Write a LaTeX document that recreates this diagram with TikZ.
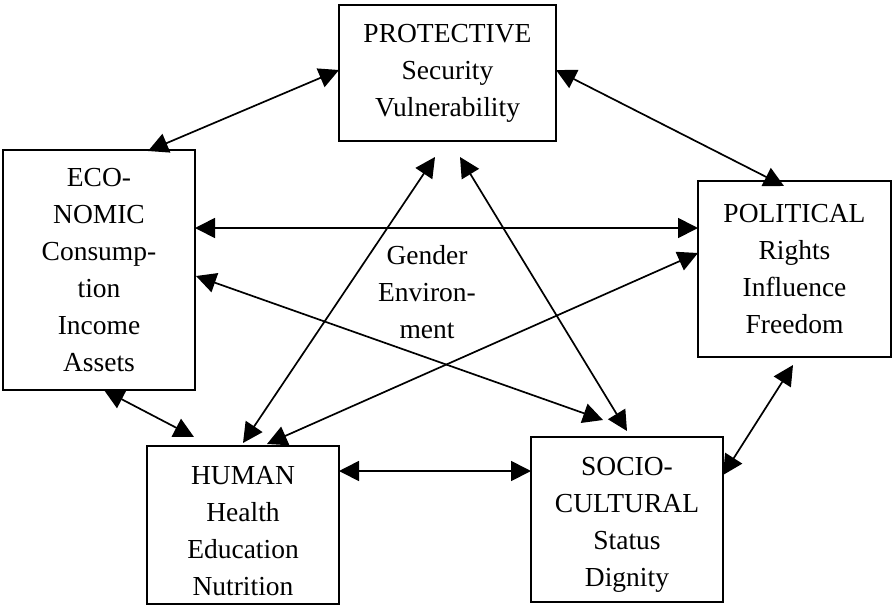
\documentclass[tikz,border=0pt]{standalone}
\usepackage{fontspec}
\setmainfont{Liberation Serif}
\usetikzlibrary{arrows.meta}
\begin{document}
\begin{tikzpicture}[x=1pt,y=-1pt,
  txt/.style={font=\fontsize{27.5}{37}\selectfont,align=center,inner sep=0pt},
  box/.style={txt,draw,line width=2pt},
  link/.style={line width=1.7pt,{Triangle[length=20pt,width=20pt]}-{Triangle[length=20pt,width=20pt]}}]
\useasboundingbox (0,0) rectangle (893,606);
\node[box,minimum width=217pt,minimum height=136pt] (prot) at (447.5,73) {PROTECTIVE\\Security\\Vulnerability};
\node[box,minimum width=192pt,minimum height=240pt] (eco) at (99,270) {ECO-\\NOMIC\\Consump-\\tion\\Income\\Assets};
\node[box,minimum width=193pt,minimum height=176pt] (pol) at (794.5,269) {POLITICAL\\Rights\\Influence\\Freedom};
\node[box,minimum width=192pt,minimum height=158pt] (hum) at (243,525) {};
\node[txt] (humt) at (243,531) {HUMAN\\Health\\Education\\Nutrition};
\node[box,minimum width=192pt,minimum height=165pt] (soc) at (627,519.5) {};
\node[txt] (soct) at (627,524.5) {SOCIO-\\CULTURAL\\Status\\Dignity};
\node[txt] (gen) at (427,292) {Gender\\Environ-\\ment};
% endpoints
\coordinate (a1s) at (148,151); \coordinate (a1e) at (339,70);
\coordinate (a2s) at (556,70);  \coordinate (a2e) at (784,186);
\coordinate (a3s) at (195,228); \coordinate (a3e) at (698,228);
\coordinate (a4s) at (196,276); \coordinate (a4e) at (603,420);
\coordinate (a5s) at (435,157); \coordinate (a5e) at (243,443);
\coordinate (a6s) at (460,157); \coordinate (a6e) at (627,431);
\coordinate (a7s) at (698,253); \coordinate (a7e) at (267,444);
\coordinate (a8s) at (104,390); \coordinate (a8e) at (194,437);
\coordinate (a9s) at (339,471); \coordinate (a9e) at (531,471);
\coordinate (a10s) at (723,475); \coordinate (a10e) at (793,365);
\foreach \i in {1,...,10} {\draw[link] (a\i s) -- (a\i e);}
\end{tikzpicture}
\end{document}
